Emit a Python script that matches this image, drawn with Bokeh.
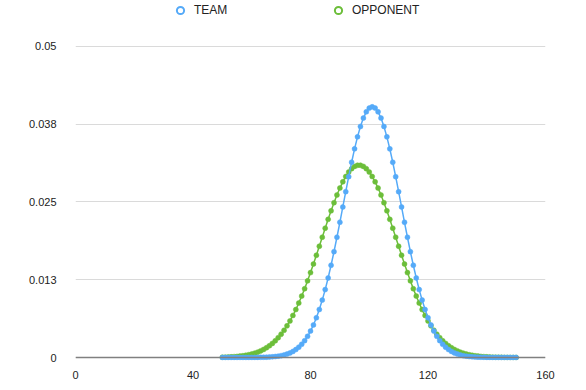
from bokeh.plotting import figure
from bokeh.models import Range1d, FixedTicker, Span, Legend, LegendItem, ColumnDataSource
from bokeh.embed import file_html
from bokeh.resources import INLINE

# x values (points score) 50..150
x_values = list(range(50, 151))

team = [
    0.0000001, 0.0000001, 0.0000002, 0.0000003, 0.0000005, 0.0000008, 0.0000013, 0.0000021, 0.0000032, 0.0000050,
    0.0000076, 0.0000115, 0.0000172, 0.0000255, 0.0000373, 0.0000542, 0.0000779, 0.000111, 0.000156, 0.000217,
    0.000300, 0.000409, 0.000552, 0.000738, 0.000978, 0.00128, 0.00166, 0.00213, 0.00271, 0.00341,
    0.00425, 0.00524, 0.00639, 0.00772, 0.00923, 0.01092, 0.01279, 0.01483, 0.01702, 0.01933,
    0.02174, 0.02420, 0.02666, 0.02907, 0.03139, 0.03354, 0.03547, 0.03714, 0.03849, 0.03949,
    0.04009, 0.04030, 0.04009, 0.03949, 0.03849, 0.03714, 0.03547, 0.03354, 0.03139, 0.02907,
    0.02666, 0.02420, 0.02174, 0.01933, 0.01702, 0.01483, 0.01279, 0.01092, 0.00923, 0.00772,
    0.00639, 0.00524, 0.00425, 0.00341, 0.00271, 0.00213, 0.00166, 0.00128, 0.000978, 0.000738,
    0.000552, 0.000409, 0.000300, 0.000217, 0.000156, 0.000111, 0.0000779, 0.0000542, 0.0000373, 0.0000255,
    0.0000172, 0.0000115, 0.0000076, 0.0000050, 0.0000032, 0.0000021, 0.0000013, 0.0000008, 0.0000005, 0.0000003,
    0.0000002,
]

opponent = [
    0.0000466, 0.0000615, 0.0000806, 0.000105, 0.000136, 0.000175, 0.000224, 0.000285, 0.000360, 0.000452,
    0.000565, 0.000701, 0.000866, 0.00106, 0.00129, 0.00157, 0.00189, 0.00226, 0.00269, 0.00319,
    0.00375, 0.00438, 0.00509, 0.00588, 0.00676, 0.00771, 0.00875, 0.00987, 0.01106, 0.01232,
    0.01365, 0.01503, 0.01644, 0.01789, 0.01934, 0.02079, 0.02221, 0.02358, 0.02489, 0.02612,
    0.02724, 0.02824, 0.02910, 0.02981, 0.03035, 0.03072, 0.03090, 0.03090, 0.03072, 0.03035,
    0.02981, 0.02910, 0.02824, 0.02724, 0.02612, 0.02489, 0.02358, 0.02221, 0.02079, 0.01934,
    0.01789, 0.01644, 0.01503, 0.01365, 0.01232, 0.01106, 0.00987, 0.00875, 0.00771, 0.00676,
    0.00588, 0.00509, 0.00438, 0.00375, 0.00319, 0.00269, 0.00226, 0.00189, 0.00157, 0.00129,
    0.00106, 0.000866, 0.000701, 0.000565, 0.000452, 0.000360, 0.000285, 0.000224, 0.000175, 0.000136,
    0.000105, 0.0000806, 0.0000615, 0.0000466, 0.0000352, 0.0000263, 0.0000196, 0.0000145, 0.0000107, 0.0000078,
    0.0000057,
]

series_names = ["TEAM", "OPPONENT"]
x_ticks = [0, 40, 80, 120, 160]
y_ticks = [0, 0.0125, 0.025, 0.0375, 0.05]
y_tick_labels = ["0", "0.013", "0.025", "0.038", "0.05"]

BLUE = "#55AAF8"
GREEN = "#6CBE3A"
FONT = "Liberation Sans"

# frame covers the whole height so that the legend above the top gridline is not clipped
p = figure(width=586, height=390, output_backend="svg", toolbar_location=None,
           x_range=Range1d(0, 160), y_range=Range1d(-0.00048, 0.05739),
           min_border_left=75, min_border_right=41, min_border_top=0, min_border_bottom=30)
p.outline_line_color = None
p.background_fill_color = "white"
p.border_fill_color = "white"

p.xaxis.ticker = FixedTicker(ticks=x_ticks)
p.yaxis.ticker = FixedTicker(ticks=y_ticks)
p.yaxis.major_label_overrides = {t: l for t, l in zip(y_ticks, y_tick_labels)}
for ax in (p.xaxis[0], p.yaxis[0]):
    ax.axis_line_color = None
    ax.major_tick_line_color = None
    ax.minor_tick_line_color = None
    ax.major_label_text_font = FONT
    ax.major_label_text_font_size = "11px"
    ax.major_label_text_color = "#222222"
p.yaxis.major_label_standoff = 13
p.xaxis.major_label_standoff = 4

p.xgrid.grid_line_color = None
p.ygrid.grid_line_color = "#dadada"
p.ygrid.grid_line_width = 1

zero = Span(location=0, dimension="width", line_color="#808080", line_width=1.6)
p.add_layout(zero)

src = ColumnDataSource(dict(x=x_values, team=team, opp=opponent))

p.line("x", "opp", source=src, line_color=GREEN, line_width=1.5)
p.scatter("x", "opp", source=src, size=5, fill_color=GREEN, line_color=GREEN, line_width=0.5)
p.line("x", "team", source=src, line_color=BLUE, line_width=1.5)
p.scatter("x", "team", source=src, size=5, fill_color=BLUE, line_color=BLUE, line_width=0.5)

# legend-only renderers (no data points drawn)
nan_src = ColumnDataSource(dict(x=[float("nan")], y=[float("nan")]))
lt = p.scatter("x", "y", source=nan_src, marker="circle", size=7, fill_color="white",
               line_color=BLUE, line_width=2)
lo = p.scatter("x", "y", source=nan_src, marker="circle", size=7, fill_color="white",
               line_color=GREEN, line_width=2)

legend = Legend(items=[LegendItem(label=series_names[0], renderers=[lt]),
                       LegendItem(label=series_names[1], renderers=[lo])],
                orientation="horizontal", location=(96, 341),
                padding=0, margin=0, spacing=0,
                glyph_width=18, glyph_height=18, label_standoff=5, label_width=135,
                label_height=14,
                label_text_font=FONT, label_text_font_size="12px", label_text_color="#222222",
                border_line_color=None, background_fill_alpha=0)
p.add_layout(legend, "center")

open("out.html", "w").write(file_html(p, INLINE))
